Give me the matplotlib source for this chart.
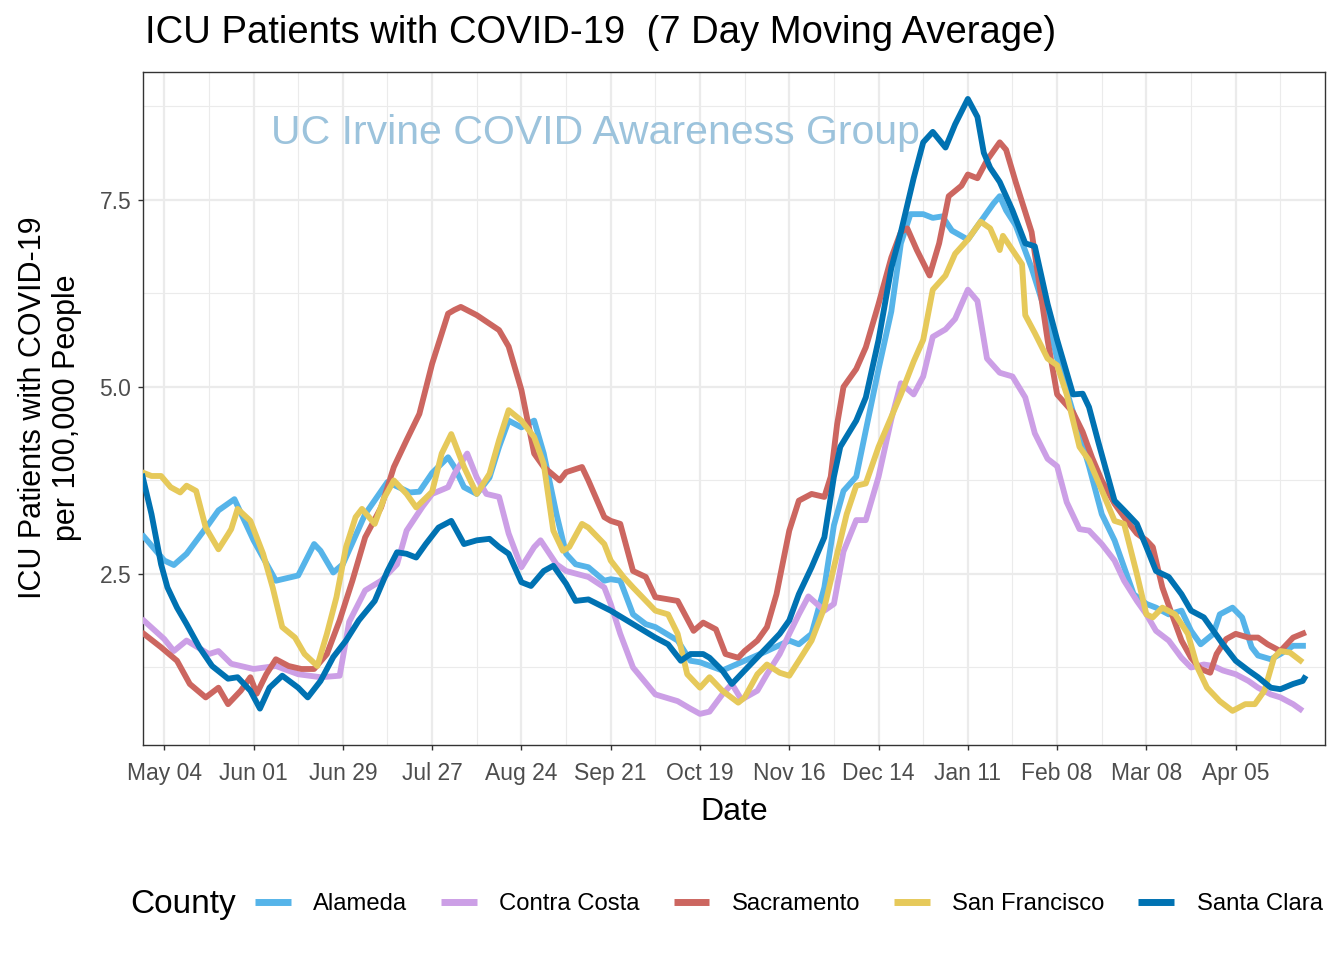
import numpy as np
import matplotlib
matplotlib.use("Agg")
import matplotlib.pyplot as plt
import matplotlib.dates as mdates

plt.rcParams['font.family'] = ['Liberation Sans', 'DejaVu Sans']

# days counted from 2020-04-27, values = ICU patients per 100k (7 day avg)
start = np.datetime64('2020-04-27')

alameda_day = [0, 7, 10, 14, 21, 24, 29, 35, 42, 49, 54, 56, 60, 63, 70, 77, 84, 87, 91, 96,
               98, 101, 105, 109, 112, 115, 119, 123, 126, 130, 133, 136, 140, 145, 147, 150, 154, 158, 161, 168,
               172, 175, 182, 189, 196, 203, 206, 210, 214, 217, 220, 224, 227, 231, 235, 238, 241, 245, 248, 251,
               254, 259, 263, 267, 269, 271, 274, 279, 284, 287, 292, 297, 301, 305, 308, 311, 315, 318, 322, 326,
               329, 332, 336, 338, 342, 345, 348, 350, 354, 357, 361, 365]
alameda_val = [3.03, 2.68, 2.62, 2.77, 3.17, 3.35, 3.50, 2.95, 2.41, 2.48, 2.90, 2.81, 2.52, 2.63, 3.30, 3.73, 3.59, 3.60, 3.85, 4.06,
               3.93, 3.66, 3.57, 3.79, 4.20, 4.55, 4.46, 4.55, 4.11, 3.30, 2.77, 2.63, 2.59, 2.41, 2.43, 2.41, 1.96, 1.83, 1.79, 1.61,
               1.34, 1.32, 1.21, 1.34, 1.47, 1.61, 1.56, 1.70, 2.32, 3.15, 3.61, 3.80, 4.42, 5.24, 6.01, 6.92, 7.31, 7.31, 7.26, 7.28,
               7.09, 6.97, 7.21, 7.45, 7.55, 7.36, 7.16, 6.59, 5.91, 5.38, 4.66, 3.94, 3.30, 2.95, 2.59, 2.23, 2.10, 2.05, 1.96, 2.01,
               1.74, 1.56, 1.70, 1.96, 2.05, 1.92, 1.52, 1.41, 1.36, 1.43, 1.54, 1.54]

contra_day = [0, 7, 10, 14, 21, 24, 28, 35, 42, 49, 56, 62, 65, 70, 75, 80, 83, 88, 91, 96,
              98, 102, 105, 108, 112, 115, 119, 123, 125, 130, 133, 140, 145, 147, 150, 154, 161, 168, 172, 175,
              178, 182, 185, 188, 193, 196, 200, 203, 206, 209, 214, 217, 220, 224, 227, 231, 235, 238, 242, 245,
              248, 252, 255, 259, 262, 265, 269, 273, 277, 280, 284, 287, 290, 294, 297, 301, 305, 308, 312, 315,
              318, 322, 326, 329, 333, 336, 339, 343, 347, 350, 354, 357, 361, 364]
contra_val = [1.90, 1.63, 1.47, 1.61, 1.43, 1.47, 1.30, 1.23, 1.27, 1.16, 1.12, 1.14, 1.86, 2.28, 2.41, 2.63, 3.08, 3.40, 3.57, 3.66,
              3.84, 4.11, 3.79, 3.57, 3.53, 3.04, 2.59, 2.86, 2.95, 2.63, 2.54, 2.46, 2.32, 2.10, 1.70, 1.25, 0.89, 0.80, 0.70, 0.63,
              0.66, 0.89, 1.03, 0.82, 0.94, 1.16, 1.43, 1.70, 1.96, 2.20, 2.01, 2.10, 2.80, 3.22, 3.22, 3.80, 4.57, 5.05, 4.90, 5.14,
              5.67, 5.77, 5.91, 6.30, 6.15, 5.38, 5.19, 5.14, 4.86, 4.38, 4.04, 3.94, 3.46, 3.10, 3.08, 2.90, 2.68, 2.41, 2.14, 1.96,
              1.74, 1.61, 1.38, 1.25, 1.29, 1.27, 1.21, 1.16, 1.07, 0.98, 0.89, 0.85, 0.76, 0.67]

sac_day = [0, 6, 11, 15, 20, 24, 27, 31, 34, 36, 39, 42, 46, 50, 54, 58, 62, 66, 70, 75,
           79, 83, 87, 91, 96, 98, 100, 105, 112, 115, 119, 123, 126, 131, 133, 138, 140, 145, 147, 150,
           154, 158, 161, 168, 173, 176, 180, 183, 187, 189, 193, 196, 199, 203, 206, 210, 214, 216, 218, 220,
           224, 227, 231, 235, 238, 240, 243, 247, 250, 253, 257, 259, 262, 265, 269, 271, 274, 279, 284, 287,
           292, 295, 298, 301, 305, 308, 312, 315, 317, 320, 323, 326, 329, 332, 335, 337, 340, 343, 347, 350,
           353, 357, 361, 365]
sac_val = [1.72, 1.52, 1.34, 1.03, 0.85, 0.98, 0.76, 0.94, 1.12, 0.90, 1.16, 1.36, 1.27, 1.23, 1.23, 1.43, 1.88, 2.41, 2.99, 3.39,
           3.93, 4.29, 4.64, 5.31, 5.98, 6.03, 6.07, 5.96, 5.76, 5.54, 4.96, 4.11, 3.93, 3.75, 3.86, 3.93, 3.75, 3.26, 3.21, 3.17,
           2.54, 2.46, 2.19, 2.14, 1.74, 1.85, 1.76, 1.43, 1.38, 1.47, 1.61, 1.79, 2.23, 3.08, 3.48, 3.57, 3.53, 3.80, 4.50, 5.00,
           5.24, 5.53, 6.11, 6.73, 7.07, 7.12, 6.83, 6.49, 6.92, 7.55, 7.69, 7.84, 7.79, 8.03, 8.27, 8.17, 7.74, 7.07, 5.63, 4.90,
           4.66, 4.40, 4.05, 3.75, 3.44, 3.26, 3.04, 2.95, 2.86, 2.32, 1.96, 1.61, 1.38, 1.23, 1.18, 1.43, 1.63, 1.70, 1.65, 1.65,
           1.56, 1.47, 1.65, 1.72]

sf_day = [0, 3, 6, 9, 12, 14, 17, 20, 24, 27, 28, 30, 34, 38, 41, 44, 48, 51, 55, 58,
          61, 64, 67, 69, 73, 76, 79, 83, 86, 91, 94, 97, 101, 105, 109, 112, 115, 119, 123, 126,
          129, 132, 134, 138, 140, 145, 147, 151, 154, 161, 165, 168, 171, 175, 178, 182, 187, 189, 193, 196,
          200, 203, 206, 210, 214, 217, 221, 224, 227, 231, 235, 238, 242, 245, 248, 252, 255, 259, 263, 266,
          269, 270, 273, 276, 277, 280, 284, 287, 290, 294, 297, 301, 305, 308, 312, 315, 317, 320, 324, 328,
          331, 334, 338, 342, 346, 349, 352, 355, 357, 360, 364]
sf_val = [3.86, 3.81, 3.81, 3.66, 3.59, 3.68, 3.61, 3.12, 2.83, 3.03, 3.10, 3.37, 3.21, 2.77, 2.32, 1.79, 1.65, 1.43, 1.27, 1.70,
          2.19, 2.86, 3.26, 3.37, 3.17, 3.52, 3.75, 3.57, 3.39, 3.60, 4.11, 4.37, 3.93, 3.57, 3.84, 4.29, 4.69, 4.55, 4.33, 3.97,
          3.08, 2.81, 2.86, 3.17, 3.12, 2.90, 2.68, 2.46, 2.32, 2.01, 1.96, 1.70, 1.16, 0.98, 1.12, 0.94, 0.78, 0.85, 1.16, 1.29,
          1.18, 1.14, 1.34, 1.61, 2.05, 2.59, 3.30, 3.68, 3.71, 4.20, 4.60, 4.90, 5.34, 5.63, 6.30, 6.49, 6.78, 6.97, 7.21, 7.12,
          6.83, 7.02, 6.83, 6.64, 5.96, 5.72, 5.38, 5.29, 4.90, 4.20, 4.02, 3.62, 3.21, 3.17, 2.50, 1.96, 1.92, 2.05, 1.96, 1.70,
          1.25, 0.98, 0.80, 0.67, 0.76, 0.76, 0.94, 1.38, 1.47, 1.45, 1.32]

sc_day = [0, 3, 6, 8, 11, 14, 18, 22, 27, 30, 34, 37, 40, 44, 49, 52, 56, 60, 64, 68,
          73, 77, 80, 83, 86, 89, 93, 97, 101, 105, 109, 112, 115, 119, 122, 126, 129, 133, 136, 140,
          147, 154, 161, 165, 169, 172, 176, 178, 182, 185, 189, 196, 200, 203, 206, 210, 214, 217, 219, 224,
          227, 231, 235, 238, 242, 245, 248, 252, 255, 259, 262, 264, 266, 269, 273, 277, 280, 284, 287, 292,
          295, 297, 300, 305, 308, 312, 315, 318, 322, 326, 329, 333, 336, 339, 343, 347, 350, 354, 357, 361,
          364, 365]
sc_val = [3.84, 3.30, 2.63, 2.32, 2.05, 1.83, 1.52, 1.27, 1.10, 1.12, 0.94, 0.70, 0.98, 1.14, 0.98, 0.85, 1.07, 1.39, 1.61, 1.88,
          2.14, 2.54, 2.79, 2.77, 2.72, 2.90, 3.12, 3.21, 2.90, 2.95, 2.97, 2.86, 2.77, 2.39, 2.34, 2.54, 2.61, 2.37, 2.14, 2.16,
          2.01, 1.83, 1.65, 1.56, 1.34, 1.43, 1.43, 1.38, 1.21, 1.03, 1.21, 1.52, 1.70, 1.88, 2.23, 2.59, 2.99, 3.80, 4.20, 4.55,
          4.86, 5.63, 6.59, 7.07, 7.79, 8.27, 8.41, 8.20, 8.51, 8.85, 8.61, 8.13, 7.93, 7.74, 7.36, 6.92, 6.88, 6.11, 5.63, 4.90,
          4.91, 4.73, 4.25, 3.48, 3.35, 3.17, 2.86, 2.54, 2.46, 2.23, 2.01, 1.92, 1.74, 1.56, 1.34, 1.21, 1.12, 0.98, 0.96, 1.03,
          1.07, 1.14]

counties = ["Alameda", "Contra Costa", "Sacramento", "San Francisco", "Santa Clara"]
colors = ["#56B4E9", "#CC9FE6", "#CC6660", "#E6C95A", "#0072B2"]
series = [(alameda_day, alameda_val), (contra_day, contra_val), (sac_day, sac_val),
          (sf_day, sf_val), (sc_day, sc_val)]

fig = plt.figure(figsize=(13.44, 9.6), dpi=100)
ax = fig.add_axes([143/1344, 1-745/960, (1325-143)/1344, (745-72)/960])

for name, col, (d, v) in zip(counties, colors, series):
    dates = start + np.array(d).astype('timedelta64[D]')
    ax.plot(dates, v, color=col, lw=4.2, label=name, solid_capstyle='butt',
            solid_joinstyle='round', zorder=3)

# axes and grid, ggplot theme_bw look
ax.set_xlim(start + np.timedelta64(8, 'h'), start + np.timedelta64(371, 'D'))
ax.set_ylim(0.214, 9.21)

major = [start + np.timedelta64(7 + 28*k, 'D') for k in range(13)]
minor = [start + np.timedelta64(21 + 28*k, 'D') for k in range(13)]
ax.set_xticks(major)
ax.set_xticks(minor, minor=True)
ax.xaxis.set_major_formatter(mdates.DateFormatter('%b %d'))
ax.set_yticks([2.5, 5.0, 7.5])
ax.set_yticklabels(['2.5', '5.0', '7.5'])
ax.set_yticks([1.25, 3.75, 6.25, 8.75], minor=True)

ax.grid(which='major', color='#EBEBEB', lw=1.6, zorder=0)
ax.grid(which='minor', color='#EBEBEB', lw=0.8, zorder=0)
ax.set_axisbelow(True)
for s in ax.spines.values():
    s.set_color('#333333')
    s.set_linewidth(1.0)
ax.tick_params(which='major', length=3.5, width=1.0, color='#333333', labelcolor='#4D4D4D',
               labelsize=16.5)
ax.tick_params(axis='x', which='major', pad=9)
ax.tick_params(axis='y', which='major', pad=5)
ax.tick_params(which='minor', length=0)

ax.text(0.3824, 0.910, 'UC Irvine COVID Awareness Group', transform=ax.transAxes,
        ha='center', va='center', fontsize=29.5, color='#9CC3DC', zorder=2)

fig.text(145/1344, 1-33/960, 'ICU Patients with COVID-19  (7 Day Moving Average)',
         ha='left', va='center', fontsize=27.5)
fig.text(734/1344, 1-812/960, 'Date', ha='center', va='center', fontsize=23)
fig.text(50/1344, 1-408/960, 'ICU Patients with COVID-19\nper 100,000 People', rotation=90,
         ha='center', va='center', fontsize=22, multialignment='center', linespacing=1.15)

fig.text(130/1344, 1-904/960, 'County', ha='left', va='center', fontsize=24)
fig.legend(loc='center left', bbox_to_anchor=(255/1344, 1-904/960), ncol=5, frameon=False,
           fontsize=17.2, handlelength=1.5, handletextpad=0.94, columnspacing=1.41,
           borderpad=0, borderaxespad=0)
for line in fig.legends[0].get_lines():
    line.set_linewidth(5)

fig.savefig('out.png', dpi=100)
